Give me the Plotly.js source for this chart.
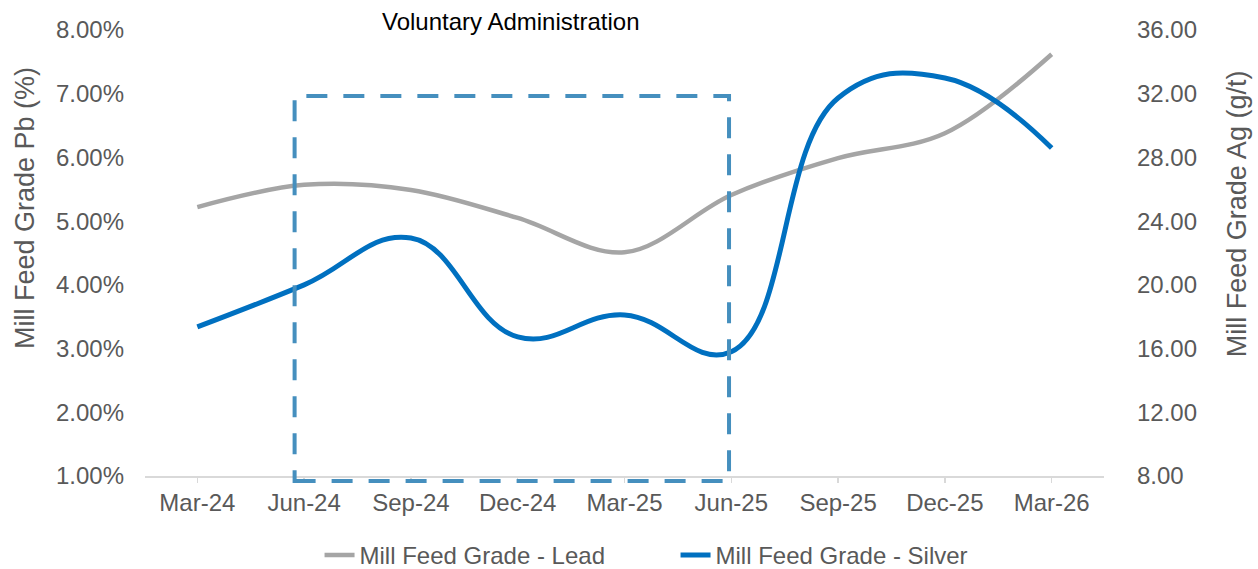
<!DOCTYPE html>
<html>
<head>
<meta charset="utf-8">
<script src="https://cdn.plot.ly/plotly-3.0.1.min.js"></script>
<style>html,body{margin:0;padding:0;background:#fff;}#chart{width:1258px;height:569px;}</style>
</head>
<body>
<div id="chart"></div>
<script>
const categories = ["Mar-24","Jun-24","Sep-24","Dec-24","Mar-25","Jun-25","Sep-25","Dec-25","Mar-26"];
const leadGrade = [0.0522, 0.0557, 0.0549, 0.0505, 0.0451, 0.0541, 0.0599, 0.0638, 0.0762];
const silverGrade = [17.36, 20.0, 22.94, 16.73, 18.11, 15.8, 31.73, 32.99, 28.59];
const leadName = "Mill Feed Grade - Lead";
const silverName = "Mill Feed Grade - Silver";
const leftTitle = "Mill Feed Grade Pb (%)";
const rightTitle = "Mill Feed Grade Ag (g/t)";
const boxLabel = "Voluntary Administration";

const fontFam = "Liberation Sans, Arial, sans-serif";
const grey = "#595959";

const traces = [
  {x: categories, y: leadGrade, name: leadName, type: "scatter", mode: "lines",
   line: {color: "#A5A5A5", width: 4.5, shape: "spline", smoothing: 1}, yaxis: "y"},
  {x: categories, y: silverGrade, name: silverName, type: "scatter", mode: "lines",
   line: {color: "#0070C0", width: 5, shape: "spline", smoothing: 1.2}, yaxis: "y2"}
];

const layout = {
  width: 1258, height: 569,
  margin: {l: 145, r: 154, t: 30, b: 93},
  paper_bgcolor: "#fff", plot_bgcolor: "#fff",
  font: {family: fontFam, size: 24, color: grey},
  showlegend: true,
  legend: {orientation: "h", x: 0.537, xref: "container", xanchor: "center",
           y: 0.024, yref: "container", yanchor: "middle",
           font: {size: 24, color: grey}, itemwidth: 30, entrywidth: 311,
           bgcolor: "rgba(0,0,0,0)"},
  xaxis: {type: "category", range: [-0.49, 8.49], showgrid: false, zeroline: false,
          showline: true, linecolor: "#D9D9D9", linewidth: 1.5,
          ticks: "outside", ticklen: 5, tickcolor: "#D9D9D9", tickwidth: 1.5,
          tickfont: {size: 24, color: grey}, fixedrange: true},
  yaxis: {range: [0.01, 0.08], dtick: 0.01, tickformat: ".2%", showgrid: false, zeroline: false,
          showline: false, ticks: "", ticklabelstandoff: 20,
          tickfont: {size: 24, color: grey}},
  yaxis2: {range: [8, 36], dtick: 4, tickformat: ".2f", overlaying: "y", side: "right",
           showgrid: false, zeroline: false, showline: false, ticks: "", ticklabelstandoff: 32,
           tickfont: {size: 24, color: grey}},
  shapes: [
    {type: "rect", xref: "paper", yref: "paper", x0: 0.156, x1: 0.609, y0: -0.011, y1: 0.852,
     line: {color: "rgb(69,143,190)", width: 4, dash: "21px,16px"}, fillcolor: "rgba(0,0,0,0)"}
  ],
  annotations: [
    {text: boxLabel, xref: "paper", yref: "paper", x: 0.381, y: 1.018, xanchor: "center", yanchor: "middle",
     showarrow: false, font: {size: 24, color: "#000"}},
    {text: leftTitle, xref: "paper", yref: "paper", x: -0.1251, y: 0.601, xanchor: "center", yanchor: "middle",
     textangle: -90, showarrow: false, font: {size: 27, color: grey}},
    {text: rightTitle, xref: "paper", yref: "paper", x: 1.1387, y: 0.587, xanchor: "center", yanchor: "middle",
     textangle: -90, showarrow: false, font: {size: 27, color: grey}}
  ]
};

Plotly.newPlot("chart", traces, layout, {displayModeBar: false, staticPlot: true});
</script>
</body>
</html>
